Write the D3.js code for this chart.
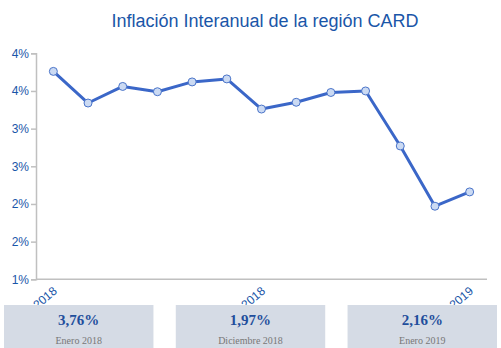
<!DOCTYPE html>
<html><head><meta charset="utf-8">
<script src="https://cdn.jsdelivr.net/npm/d3@7"></script>
<style>
html,body{margin:0;padding:0;background:#fff;}
svg{display:block;}
</style></head>
<body>
<svg id="c" width="501" height="348"></svg>
<script>
const months = ["Ene 2018","Feb 2018","Mar 2018","Abr 2018","May 2018","Jun 2018","Jul 2018","Ago 2018","Sep 2018","Oct 2018","Nov 2018","Dic 2018","Ene 2019"];
const inflation = [3.76, 3.34, 3.56, 3.49, 3.62, 3.66, 3.26, 3.35, 3.48, 3.50, 2.77, 1.97, 2.16];
const xTickLabels = ["Ene 2018", "Jul 2018", "Ene 2019"];
const yTicks = [1.0, 1.5, 2.0, 2.5, 3.0, 3.5, 4.0];
const cards = [
  {value: "3,76%", label: "Enero 2018"},
  {value: "1,97%", label: "Diciembre 2018"},
  {value: "2,16%", label: "Enero 2019"}
];

const svg = d3.select("#c");
const blue = "#1a56a8";
const m = {left: 36, right: 14, top: 53, bottom: 69};
const W = 501, H = 348;

const x = d3.scalePoint().domain(months).range([m.left, W - m.right]).padding(0.5);
const y = d3.scaleLinear().domain([1, 4]).range([279.3, 53.3]);

svg.append("text").attr("x", 265).attr("y", 27).attr("text-anchor", "middle")
  .attr("font-family", "Liberation Sans, Arial, sans-serif").attr("font-size", 18)
  .attr("fill", blue).text("Inflación Interanual de la región CARD");

// y axis
const yAxis = svg.append("g").attr("transform", `translate(${m.left},0)`)
  .call(d3.axisLeft(y).tickValues(yTicks).tickSize(5).tickPadding(2).tickFormat(d => d.toFixed(0) + "%"));
yAxis.select(".domain").attr("stroke", "#c0c0c0").attr("stroke-width", 1.5);
yAxis.selectAll(".tick line").attr("stroke", "#c0c0c0").attr("stroke-width", 1.5);
yAxis.selectAll("text").attr("fill", blue).attr("font-size", 12)
  .attr("font-family", "Liberation Sans, Arial, sans-serif");

// x axis
const xAxis = svg.append("g").attr("transform", `translate(0,${y(1)})`)
  .call(d3.axisBottom(x).tickValues(xTickLabels).tickSize(0).tickPadding(0));
xAxis.select(".domain").attr("stroke", "#c0c0c0").attr("stroke-width", 1.5)
  .attr("d", `M${m.left},0H${W - m.right}`);
xAxis.selectAll("text").attr("fill", blue).attr("font-size", 12)
  .attr("font-family", "Liberation Sans, Arial, sans-serif")
  .attr("text-anchor", "end").attr("dy", null).attr("y", 0)
  .attr("transform", "translate(4,13) rotate(-40)");

// line
const line = d3.line().x((d, i) => x(months[i])).y(d => y(d));
svg.append("path").datum(inflation).attr("d", line)
  .attr("fill", "none").attr("stroke", "#3b67c8").attr("stroke-width", 3)
  .attr("stroke-linejoin", "round");
svg.selectAll("circle.pt").data(inflation).enter().append("circle")
  .attr("class", "pt").attr("cx", (d, i) => x(months[i])).attr("cy", d => y(d))
  .attr("r", 4).attr("fill", "#cbdaf3").attr("stroke", "#4a74c9").attr("stroke-width", 1);

// cards
const cx = d3.scaleBand().domain(cards.map(d => d.label)).range([4, 497]).paddingInner(0.13);
const g = svg.selectAll("g.card").data(cards).enter().append("g").attr("class", "card")
  .attr("transform", d => `translate(${cx(d.label)},305)`);
g.append("rect").attr("width", cx.bandwidth()).attr("height", 43).attr("fill", "#d5dbe5");
g.append("text").attr("x", cx.bandwidth() / 2).attr("y", 20).attr("text-anchor", "middle")
  .attr("font-family", "Liberation Serif, Times New Roman, serif").attr("font-weight", "bold")
  .attr("font-size", 15).attr("fill", "#1f4e9c").text(d => d.value);
g.append("text").attr("x", cx.bandwidth() / 2).attr("y", 39).attr("text-anchor", "middle")
  .attr("font-family", "Liberation Serif, Times New Roman, serif")
  .attr("font-size", 10).attr("fill", "#777").text(d => d.label);
</script>
</body></html>
